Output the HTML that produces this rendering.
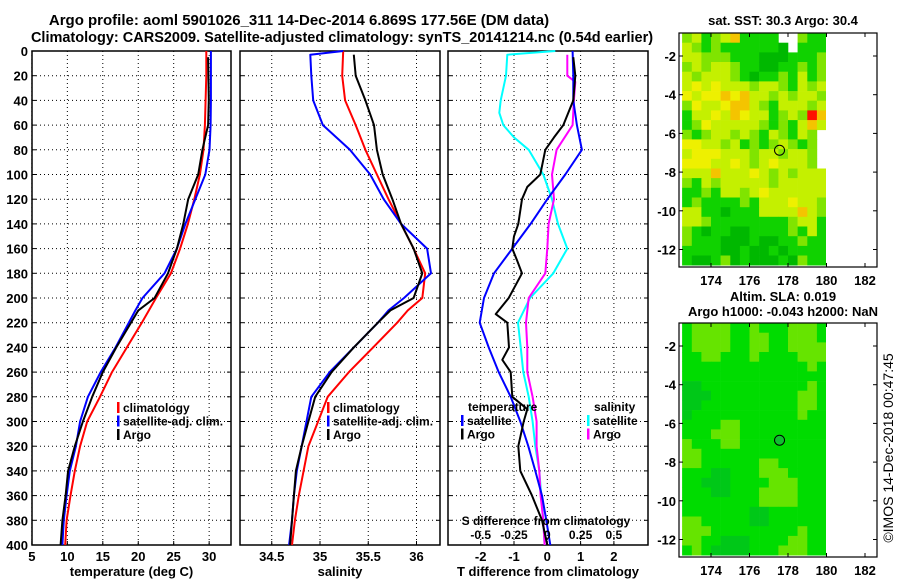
<!DOCTYPE html>
<html><head><meta charset="utf-8"><style>
html,body{margin:0;padding:0;background:#fff;}
svg{display:block;font-family:"Liberation Sans",Arial,sans-serif;font-weight:bold;}
</style></head><body>
<svg id="fig" width="900" height="580" viewBox="0 0 900 580" xmlns="http://www.w3.org/2000/svg">
<text x="299" y="25" font-size="15" text-anchor="middle">Argo profile: aoml 5901026_311 14-Dec-2014 6.869S 177.56E (DM data)</text>
<text x="342" y="42" font-size="14.5" text-anchor="middle">Climatology: CARS2009. Satellite-adjusted climatology: synTS_20141214.nc (0.54d earlier)</text>
<g id="p1"></g>
<g id="p2"></g>
<g id="p3"></g>
<g id="m1"></g>
<g id="m2"></g>
<text x="783" y="25" font-size="13" text-anchor="middle">sat. SST: 30.3 Argo: 30.4</text>
<text x="783" y="301" font-size="13" text-anchor="middle">Altim. SLA: 0.019</text>
<text x="783" y="316" font-size="13" text-anchor="middle">Argo h1000: -0.043 h2000: NaN</text>
<text font-size="14" font-weight="normal" transform="translate(893,448) rotate(-90)" text-anchor="middle">©IMOS 14-Dec-2018 00:47:45</text>
</svg>
<script>
// ---- data ----
const depthTicks = [0,20,40,60,80,100,120,140,160,180,200,220,240,260,280,300,320,340,360,380,400];
const tTicks = [5,10,15,20,25,30];
const sTicks = [34.5,35,35.5,36];
const dTTicks = [-2,-1,0,1,2];
const dSTicks = [-0.5,-0.25,0,0.25,0.5];
const dSTickLabels = ["-0.5","-0.25","0","0.25","0.5"];

const depthStd = [0,20,40,60,80,100,120,140,160,180,200,220,240,260,280,300,320,340,360,380,400];
const tempClim = [29.6,29.6,29.5,29.4,29.2,28.7,27.9,27.0,25.9,24.6,22.5,20.5,18.4,16.3,14.6,12.8,11.8,11.05,10.45,9.9,9.7];
const tempSatDepth = [0,20,40,60,80,100,120,140,160,180,200,210,240,260,280,300,320,340,360,380,400];
const tempSat = [30.25,30.25,30.25,30.2,30.05,29.45,28.05,26.65,25.45,23.7,20.6,19.6,16.8,14.7,12.9,11.8,11.2,10.35,9.9,9.5,9.3];
const tempArgoDepth = [5,20,40,60,80,100,120,140,160,180,200,210,240,260,280,300,320,340,360,380,400];
const tempArgo = [29.85,29.9,29.95,29.85,29.05,28.45,27.05,26.35,25.45,24.2,22.3,20.0,16.9,15.0,13.5,12.2,11.05,10.1,9.75,9.3,9.05];

const salClimDepth = [0,20,40,60,80,100,120,140,160,180,200,210,220,240,260,280,300,320,340,360,380,400];
const salClim = [35.24,35.23,35.26,35.37,35.47,35.59,35.71,35.84,35.97,36.09,36.06,35.91,35.80,35.55,35.30,35.08,34.98,34.88,34.83,34.78,34.74,34.71];
const salSatDepth = [0,3,20,40,60,80,100,120,140,160,180,200,210,220,240,260,280,300,320,340,360,380,400];
const salSat = [35.24,34.90,34.91,34.93,35.03,35.31,35.52,35.66,35.84,36.11,36.15,35.87,35.71,35.60,35.35,35.10,34.91,34.86,34.81,34.76,34.73,34.71,34.68];
const salArgoDepth = [3,20,40,60,80,100,120,140,160,180,200,210,220,240,260,280,300,320,340,360,380,400];
const salArgo = [35.35,35.37,35.47,35.56,35.59,35.65,35.75,35.84,35.97,36.06,35.97,35.73,35.60,35.35,35.12,34.95,34.88,34.81,34.75,34.73,34.71,34.69];

const dTSatDepth = [0,20,40,60,80,100,120,140,160,180,200,220,240,260,280,300,320,340,360,380,400];
const dTSat = [0.76,0.78,0.78,0.89,1.04,0.54,0,-0.5,-1.05,-1.6,-1.9,-2.03,-1.76,-1.46,-1.1,-0.81,-0.57,-0.36,-0.16,-0.03,0.09];
const dTArgoDepth = [5,20,40,60,70,80,100,110,120,140,150,160,170,180,200,213,220,240,250,260,280,290,300,320,340,360,380,400];
const dTArgo = [0.78,0.84,0.78,0.48,0.2,-0.06,-0.21,-0.6,-0.76,-0.87,-1.0,-1.05,-0.9,-0.76,-1.16,-1.55,-1.2,-1.15,-1.35,-1.1,-1.05,-0.6,-0.71,-0.87,-0.81,-0.46,-0.16,0];
const dSSatDepth = [0,3,20,40,50,60,70,80,100,120,140,160,180,200,220,240,260,280,300,320,340,360,380,400];
const dSSat = [0.06,-0.30,-0.31,-0.35,-0.36,-0.33,-0.25,-0.14,-0.03,0.035,0.08,0.15,0.045,-0.13,-0.22,-0.2,-0.18,-0.14,-0.11,-0.09,-0.06,-0.045,-0.03,-0.02];
const dSArgoDepth = [3,20,25,40,60,80,100,120,140,160,180,200,220,240,260,280,300,320,340,360,380,400];
const dSArgo = [0.15,0.15,0.21,0.2,0.19,0.07,0.035,0.05,0.01,0,-0.015,-0.14,-0.16,-0.15,-0.15,-0.11,-0.08,-0.08,-0.06,-0.05,-0.03,-0.02];

const lonTicks = [174,176,178,180,182];
const latTicks = [-2,-4,-6,-8,-10,-12];
const sstRows = [
"lyglyogggg..lgg","ylglggggggG.ggg","yylllgggGGGgggl","lylyylggGGgglgl","ylyyylgGgglgygl",
"yYyYyyylyylgyly","YyYYoYoyylylyyl","lYyyYooylgyyyly","gyyYyoYyyglylro","glYyyyyylglgyoy",
"lglyylylgylgyl.","YYyylyglglylgl.","yYYYyyylyylyyl.","YYYyyYylyYyyyl.","yyyoyyyYylylyyy",
"lgylyyyyylyyyyy","gglgyylyYyyyyyy","glgggglgyyyYyyl","yyggGgggyyyyoyl","yylgggggggglyyg",
"lgGggGGgggglgyg","lgggGGGgGGgglgg","ggggGGgGGgGgggg","gGGglGgGGGgGlgg"];
const slaRows = [
"gLLLLggLgggLLLg","gLLLLggLLggLLLg","gLLLLggLLggLLLL","ggLLgggLggggLLL","gggggggggggggLg",
"ggggggggggggggg","ddgggggggggggLg","dddgggggggggLLg","ddggggggggggLLg","dgggggggggggLgg",
"ggggLLggggggggg","gggLLLggggggggg","LgggLLggggggggg","LLggggggggggggg","LLggggggLLggggg",
"gggddgggLLLgggg","ggdddggggLLLggg","gggddgggLLLLggg","ggggggggLLLLggg","gggggggddgggggg",
"LLgggggddgggggg","LLLgggggggggLgg","LLggdddggggLLgg","gLgddddgggLLLgg"];
const sstColors = {G:"#00b800",g:"#10d200",l:"#80e400",y:"#c4f000",Y:"#eef000",o:"#f4c400",r:"#ff1000"};
const slaColors = {L:"#66e400",g:"#00dc00",d:"#00c818"};
const argoLon = 177.56, argoLat = -6.869;

// ---- helpers ----
const NS = "http://www.w3.org/2000/svg";
function mk(parent, tag, attrs) {
  const e = document.createElementNS(NS, tag);
  for (const k in attrs) e.setAttribute(k, attrs[k]);
  parent.appendChild(e);
  return e;
}
const Y0 = 51, YPX = 1.235;
const yD = d => Y0 + d * YPX;
const FS = 13, LFS = 12;

function panel(g, x0, x1, xs, xticks, xlabels, yLabels, xtitle) {
  const top = yD(0), bot = yD(400);
  depthTicks.forEach(d => {
    const gl = mk(g, "line", {x1:x0, x2:x1, y1:yD(d), y2:yD(d), stroke:"#000", "stroke-width":1, "stroke-dasharray":"1,3"});
    
    
    mk(g, "line", {x1:x0, x2:x0+4, y1:yD(d), y2:yD(d), stroke:"#000"});
    mk(g, "line", {x1:x1-4, x2:x1, y1:yD(d), y2:yD(d), stroke:"#000"});
    if (yLabels) {
      const t = mk(g, "text", {x:x0-4, y:yD(d)+5, "font-size":FS, "text-anchor":"end"});
      t.textContent = d;
      
      
    }
  });
  xticks.forEach((v, i) => {
    const x = xs(v);
    const gl = mk(g, "line", {x1:x, x2:x, y1:top, y2:bot, stroke:"#000", "stroke-dasharray":"1,3"});
    
    
    mk(g, "line", {x1:x, x2:x, y1:bot-4, y2:bot, stroke:"#000"});
    const t = mk(g, "text", {x:x, y:561, "font-size":FS, "text-anchor":"middle"});
    t.textContent = xlabels[i];
    
    
  });
  const fr = mk(g, "rect", {x:x0, y:top, width:x1-x0, height:bot-top, fill:"none", stroke:"#000", "stroke-width":1.5});
  
  
  const t = mk(g, "text", {x:(x0+x1)/2, y:576, "font-size":FS, "text-anchor":"middle"});
  t.textContent = xtitle;
  
  
}
function line(g, xs, depths, vals, color, w, name) {
  const pts = vals.map((v, i) => xs(v).toFixed(1) + "," + yD(depths[i]).toFixed(1)).join(" ");
  const p = mk(g, "polyline", {points:pts, fill:"none", stroke:color, "stroke-width":w, "stroke-linejoin":"round"});
  
  
}
function legend(g, x, y, entries) {
  entries.forEach((e, i) => {
    mk(g, "rect", {x:x, y:y+i*13.5-10, width:2.5, height:11, fill:e[1]});
    const t = mk(g, "text", {x:x+6, y:y+i*13.5, "font-size":LFS});
    t.textContent = e[0];
    
    
  });
}

// ---- panel 1: temperature ----
const p1 = document.getElementById("p1");
const xT = v => 31.9 + (v - 5) * 7.09;
panel(p1, 32, 231, xT, tTicks, tTicks.map(String), true, "temperature (deg C)");
line(p1, xT, depthStd, tempClim, "#f00", 2, "temp-climatology-line");
line(p1, xT, tempSatDepth, tempSat, "#00f", 2, "temp-satellite-line");
line(p1, xT, tempArgoDepth, tempArgo, "#000", 2, "temp-argo-line");
legend(p1, 117, 412, [["climatology","#f00"],["satellite-adj. clim.","#00f"],["Argo","#000"]]);

// ---- panel 2: salinity ----
const p2 = document.getElementById("p2");
const xS = v => 320 + (v - 35) * 96.5;
panel(p2, 240, 440, xS, sTicks, sTicks.map(String), false, "salinity");
line(p2, xS, salClimDepth, salClim, "#f00", 2, "sal-climatology-line");
line(p2, xS, salSatDepth, salSat, "#00f", 2, "sal-satellite-line");
line(p2, xS, salArgoDepth, salArgo, "#000", 2, "sal-argo-line");
legend(p2, 327, 412, [["climatology","#f00"],["satellite-adj. clim.","#00f"],["Argo","#000"]]);

// ---- panel 3: differences ----
const p3 = document.getElementById("p3");
const xDT = v => 547.3 + v * 33.3;
const xDS = v => 547.3 + v * 133.2;
panel(p3, 448, 648, xDT, dTTicks, dTTicks.map(String), false, "T difference from climatology");
line(p3, xDS, dSSatDepth, dSSat, "#0ff", 2, "sal-diff-satellite-line");
line(p3, xDS, dSArgoDepth, dSArgo, "#f0f", 2, "sal-diff-argo-line");
line(p3, xDT, dTSatDepth, dTSat, "#00f", 2, "temp-diff-satellite-line");
line(p3, xDT, dTArgoDepth, dTArgo, "#000", 2, "temp-diff-argo-line");
{
  const t = mk(p3, "text", {x:468, y:411, "font-size":LFS}); t.textContent = "temperature";
  
  
  const t2 = mk(p3, "text", {x:594, y:411, "font-size":LFS}); t2.textContent = "salinity";
  
  
  legend(p3, 461, 425, [["satellite","#00f"],["Argo","#000"]]);
  legend(p3, 587, 425, [["satellite","#0ff"],["Argo","#f0f"]]);
  const t3 = mk(p3, "text", {x:546, y:525, "font-size":LFS, "text-anchor":"middle"}); t3.textContent = "S difference from climatology";
  
  
  dSTicks.forEach((v, i) => {
    const tt = mk(p3, "text", {x:xDS(v), y:539, "font-size":LFS, "text-anchor":"middle"});
    tt.textContent = dSTickLabels[i];
    
    
  });
}

// ---- maps ----
function map(g, top, rows, colors, argoFill, latRef) {
  const lx = v => 711 + (v - 174) * 19.25;
  const ly = v => latRef + (-2 - v) * 19.35;
  const latTop = -2 + (latRef - top) / 19.35;
  rows.forEach((row, r) => {
    for (let c = 0; c < row.length; c++) {
      const ch = row[c];
      if (!colors[ch]) continue;
      const lon = 172.5 + c * 0.5, lat = latTop - r * 0.5;
      const cell = mk(g, "rect", {x:lx(lon).toFixed(1), y:ly(lat).toFixed(1), width:9.9, height:10, fill:colors[ch]});
      
      
    }
  });
  const bot = top + 234;
  mk(g, "rect", {x:826, y:top, width:52, height:234, fill:"#fff"});
  mk(g, "rect", {x:679, y:bot, width:200, height:12, fill:"#fff"});
  mk(g, "rect", {x:670, y:top-12, width:210, height:12, fill:"#fff"});
  lonTicks.forEach(v => {
    mk(g, "line", {x1:lx(v), x2:lx(v), y1:top, y2:top+4, stroke:"#000"});
    mk(g, "line", {x1:lx(v), x2:lx(v), y1:bot-4, y2:bot, stroke:"#000"});
    const t = mk(g, "text", {x:lx(v), y:bot+18, "font-size":FS, "text-anchor":"middle"});
    t.textContent = v;
    
    
  });
  latTicks.forEach(v => {
    mk(g, "line", {x1:679, x2:683, y1:ly(v), y2:ly(v), stroke:"#000"});
    mk(g, "line", {x1:873, x2:877, y1:ly(v), y2:ly(v), stroke:"#000"});
    const t = mk(g, "text", {x:676, y:ly(v)+5, "font-size":FS, "text-anchor":"end"});
    t.textContent = v;
    
    
  });
  const c = mk(g, "circle", {cx:lx(argoLon), cy:ly(argoLat), r:5, fill:argoFill, stroke:"#000", "stroke-width":1});
  
  
  const fr = mk(g, "rect", {x:679, y:top, width:198, height:234, fill:"none", stroke:"#000", "stroke-width":1.2});
  
  
}
map(document.getElementById("m1"), 33, sstRows, sstColors, "none", 56);
map(document.getElementById("m2"), 323, slaRows, slaColors, "#10c030", 346);
</script>
</body></html>
